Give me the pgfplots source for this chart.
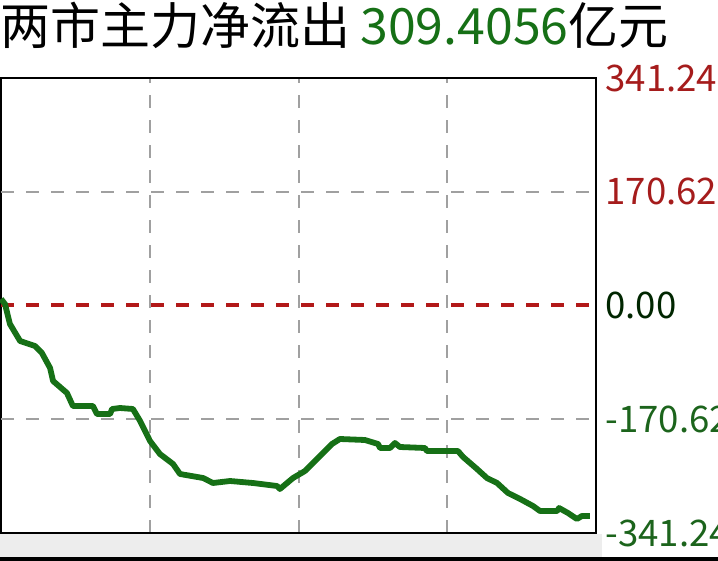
\documentclass[border=0pt]{standalone}
\usepackage{pgfplots}
\pgfplotsset{compat=1.18}
\usepackage{fontspec}
\setmainfont{Noto Sans CJK SC}
\usetikzlibrary{calc}

\definecolor{flowgreen}{RGB}{22,112,22}
\definecolor{labgreen}{RGB}{28,100,28}
\definecolor{labred}{RGB}{165,28,28}
\definecolor{zerored}{RGB}{178,24,24}
\definecolor{gridgrey}{RGB}{160,160,160}

\begin{document}
\begin{tikzpicture}
\begin{axis}[
    scale only axis,
    width=297.5pt, height=227.5pt,
    xmin=0, xmax=240,
    ymin=-341.24, ymax=341.24,
    axis line style={black, line width=1pt},
    xtick={60,120,180}, xticklabels={},
    xmajorgrids,
    major tick length=0pt,
    grid style={gridgrey, line width=1pt, dash pattern=on 6.5pt off 6pt},
    ytick={-341.24,-170.62,0,170.62,341.24},
    yticklabels={\raisebox{-4pt}{\textcolor{labgreen}{-341.24}},\textcolor{labgreen}{-170.62},\textcolor{black!85!green}{0.00},\textcolor{labred}{170.62},\raisebox{-2pt}{\textcolor{labred}{341.24}}},
    yticklabel pos=right,
    yticklabel style={anchor=west, inner sep=0pt, xshift=4.5pt, font=\fontsize{18.3pt}{21pt}\selectfont},
    extra y ticks={-170.62,170.62},
    extra y tick labels={},
    extra y tick style={ymajorgrids},
    clip=false,
]
% light band under the frame, as in the screenshot
\fill[black!7] ($(rel axis cs:0,0)+(-0.5pt,-12pt)$) rectangle ($(rel axis cs:1,0)+(3pt,-0.5pt)$);
% zero line
\addplot[zerored, line width=2pt, dash pattern=on 6.5pt off 6pt] coordinates {(0,0) (240,0)};
% main capital net flow (yi yuan), per minute of the session
\addplot[flowgreen, line width=2.9pt, line join=round] coordinates {
(0,9.75) (1.6,2.25) (3.6,-27.75) (7.7,-53.25) (13.7,-60.75) (16.5,-71.25)
(19.8,-93.75) (21.0,-113.25) (26.6,-131.25) (29.0,-150.75) (37.1,-150.75)
(38.7,-162.75) (44.0,-162.75) (44.8,-155.25) (48.0,-153.75) (53.2,-155.25)
(56.1,-173.25) (60.1,-203.25) (64.1,-222.75) (69.4,-237.75) (72.2,-252.75)
(81.5,-258.75) (85.5,-266.25) (92.4,-263.25) (101.6,-266.25) (111.3,-270.75)
(112.5,-275.25) (117.8,-258.75) (122.6,-248.25) (130.7,-218.25) (133.5,-207.75)
(136.7,-200.25) (146.8,-201.75) (152.1,-207.75) (152.9,-213.75) (156.9,-213.75)
(158.9,-206.25) (160.9,-212.25) (171.0,-213.75) (171.8,-218.25) (184.3,-218.25)
(186.4,-227.25) (192.0,-245.25) (196.0,-258.75) (200.1,-266.25) (204.5,-281.25)
(209.4,-290.25) (214.6,-300.75) (217.4,-308.25) (224.3,-308.25) (225.1,-303.75)
(228.7,-311.25) (232.3,-320.25) (234.3,-315.75) (237.5,-315.75)
};
\node[anchor=base west, inner sep=0pt, font=\fontsize{25pt}{30pt}\selectfont]
  at ($(rel axis cs:0,1)+(-0.5pt,16.5pt)$)
  {两市主力净流出\hspace{5pt}\textcolor{flowgreen}{309.4056}亿元};
\fill[black] ($(rel axis cs:0,0)+(-0.5pt,-14pt)$) rectangle ($(rel axis cs:1,0)+(61pt,-12pt)$);
\coordinate (bbl) at ($(rel axis cs:0,0)+(-0.5pt,-14pt)$);
\coordinate (bbr) at ($(rel axis cs:1,1)+(61pt,39pt)$);
\end{axis}
\pgfresetboundingbox
\path[use as bounding box] (bbl) rectangle (bbr);
\end{tikzpicture}
\end{document}
